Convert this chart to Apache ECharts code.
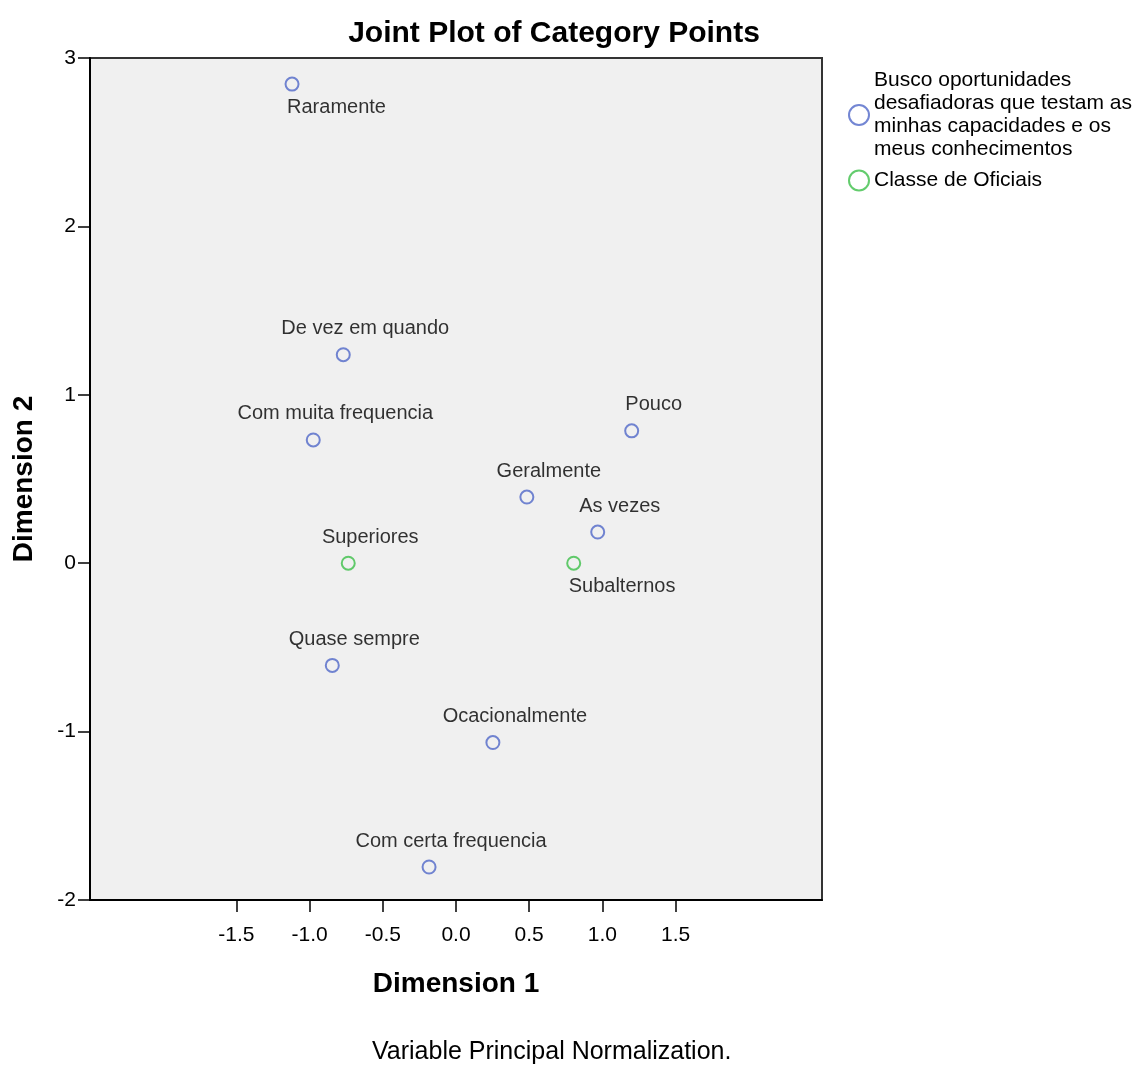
<!DOCTYPE html>
<html>
<head>
<meta charset="utf-8">
<script src="https://cdn.jsdelivr.net/npm/echarts@6/dist/echarts.min.js"></script>
<style>
  html, body { margin: 0; padding: 0; background: #fff; }
  #chart { width: 1146px; height: 1066px; }
</style>
</head>
<body>
<div id="chart"></div>
<script>
// Category points of the item "Busco oportunidades ..."
const itemCategories = ['Raramente', 'De vez em quando', 'Com muita frequencia', 'Pouco', 'Geralmente',
  'As vezes', 'Quase sempre', 'Ocacionalmente', 'Com certa frequencia'];
const itemDim1 = [-1.12, -0.77, -0.975, 1.20, 0.484, 0.968, -0.845, 0.252, -0.184];
const itemDim2 = [2.845, 1.238, 0.732, 0.786, 0.393, 0.185, -0.607, -1.065, -1.804];

// Category points of "Classe de Oficiais"
const classCategories = ['Superiores', 'Subalternos'];
const classDim1 = [-0.736, 0.804];
const classDim2 = [0.0, 0.0];

const seriesNames = ['Busco oportunidades\ndesafiadoras que testam as\nminhas capacidades e os\nmeus conhecimentos',
  'Classe de Oficiais'];
const xTickValues = [-1.5, -1.0, -0.5, 0.0, 0.5, 1.0, 1.5];
const yTickValues = [-2, -1, 0, 1, 2, 3];

// Labels drawn under their point instead of above
const labelsBelow = ['Raramente', 'Subalternos'];

const FONT = '"Liberation Sans", Arial, sans-serif';

function pointLabel(name) {
  if (labelsBelow.indexOf(name) >= 0) {
    return { show: true, position: 'inside', align: 'left', verticalAlign: 'middle', offset: [-5, 23] };
  }
  return { show: true, position: 'inside', align: 'center', verticalAlign: 'middle', offset: [22, -26] };
}

function buildPoints(names, xs, ys) {
  return names.map((n, i) => ({ name: n, value: [xs[i], ys[i]], label: pointLabel(n) }));
}

const chart = echarts.init(document.getElementById('chart'), null, { renderer: 'canvas' });

const labelStyle = {
  formatter: p => p.name,
  color: '#000',
  fontFamily: FONT,
  fontSize: 20
};

chart.setOption({
  animation: false,
  backgroundColor: '#fff',
  title: {
    text: 'Joint Plot of Category Points',
    left: 549,
    top: 14,
    textAlign: 'center',
    textStyle: { fontFamily: FONT, fontSize: 30, fontWeight: 'bold', color: '#000' }
  },
  legend: {
    orient: 'vertical',
    left: 843,
    top: 64,
    itemWidth: 20,
    itemHeight: 20,
    itemGap: 8,
    selectedMode: false,
    textStyle: { fontFamily: FONT, fontSize: 21, color: '#000', lineHeight: 23 },
    data: seriesNames
  },
  grid: {
    left: 90, right: 324, top: 58, bottom: 166,
    show: true,
    backgroundColor: '#f0f0f0',
    borderColor: '#333',
    borderWidth: 2
  },
  xAxis: {
    type: 'value',
    min: -2.5, max: 2.5, interval: 0.5,
    name: 'Dimension 1',
    nameLocation: 'middle',
    nameGap: 70,
    nameTextStyle: { fontFamily: FONT, fontSize: 28, fontWeight: 'bold', color: '#000' },
    axisLine: { show: true, onZero: false, lineStyle: { color: '#000', width: 2 } },
    axisTick: { show: true, length: 12, customValues: xTickValues, lineStyle: { color: '#000', width: 1.5 } },
    axisLabel: {
      customValues: xTickValues,
      formatter: v => v.toFixed(1),
      fontFamily: FONT, fontSize: 21, color: '#000', margin: 25
    },
    splitLine: { show: false }
  },
  yAxis: {
    type: 'value',
    min: -2, max: 3, interval: 1,
    name: 'Dimension 2',
    nameLocation: 'middle',
    nameGap: 52,
    nameRotate: 90,
    nameTextStyle: { fontFamily: FONT, fontSize: 28, fontWeight: 'bold', color: '#000' },
    axisLine: { show: true, onZero: false, lineStyle: { color: '#000', width: 2 } },
    axisTick: { show: true, length: 12, customValues: yTickValues, lineStyle: { color: '#000', width: 1.5 } },
    axisLabel: {
      customValues: yTickValues,
      fontFamily: FONT, fontSize: 21, color: '#000', margin: 14
    },
    splitLine: { show: false }
  },
  graphic: [{
    type: 'text',
    left: 372,
    top: 1040,
    style: {
      text: 'Variable Principal Normalization.',
      fontFamily: FONT,
      fontSize: 25,
      fill: '#000'
    }
  }],
  series: [
    {
      name: seriesNames[0],
      type: 'scatter',
      symbol: 'circle',
      symbolSize: 13,
      itemStyle: { color: 'rgba(0,0,0,0)', borderColor: '#5068c8', borderWidth: 2 },
      label: labelStyle,
      data: buildPoints(itemCategories, itemDim1, itemDim2)
    },
    {
      name: seriesNames[1],
      type: 'scatter',
      symbol: 'circle',
      symbolSize: 13,
      itemStyle: { color: 'rgba(0,0,0,0)', borderColor: '#3cbf48', borderWidth: 2 },
      label: labelStyle,
      data: buildPoints(classCategories, classDim1, classDim2)
    }
  ]
});
</script>
</body>
</html>
